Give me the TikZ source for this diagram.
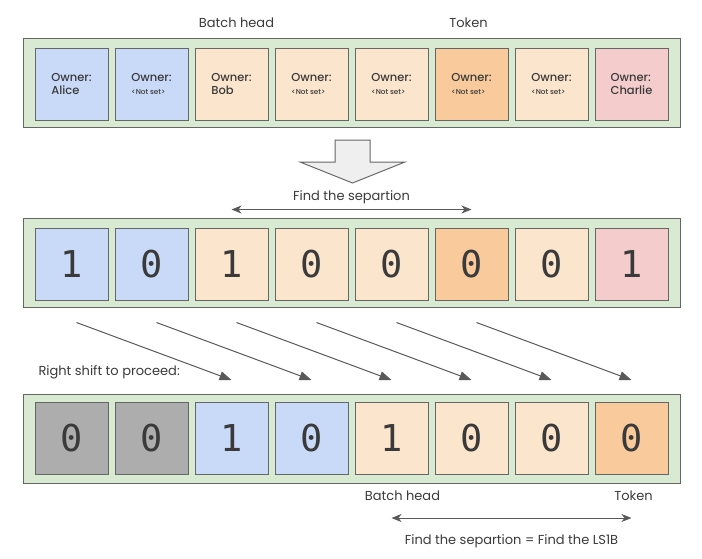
\documentclass[tikz,border=0pt]{standalone}
\usepackage{fontspec}
\setmainfont{Poppins}
\newfontfamily\ownerfont{Poppins Medium}
\newfontfamily\digitfont{DejaVu Sans Mono}
\usepackage{tikz}
\usetikzlibrary{positioning,chains,arrows.meta}

\definecolor{ink}{HTML}{3A3A3A}
\definecolor{cellline}{HTML}{666666}
\definecolor{tapegreen}{HTML}{D9EAD3}
\definecolor{bluecell}{HTML}{C9DAF8}
\definecolor{peachcell}{HTML}{FCE5CD}
\definecolor{orangecell}{HTML}{F9CB9C}
\definecolor{pinkcell}{HTML}{F4CCCC}
\definecolor{graycell}{HTML}{ADADAD}
\definecolor{arrowgray}{HTML}{595959}
\definecolor{blockfill}{HTML}{EFEFEF}

\begin{document}
\begin{tikzpicture}[x=1pt,y=-1pt]
	\tikzset{
		cell/.style={draw=cellline,line width=1pt,minimum width=73pt,minimum height=72pt,inner sep=0pt,text=ink},
		tape/.style={draw=cellline,fill=tapegreen,line width=1pt,minimum width=657pt,minimum height=89pt,inner sep=0pt},
		owner/.style={cell,align=left,font=\ownerfont\fontsize{11.5}{13}\selectfont},
		bit/.style={cell,font=\digitfont\fontsize{37}{37}\selectfont},
		lbl/.style={text=ink,font=\fontsize{13}{15}\selectfont},
		shiftarrow/.style={draw=arrowgray,line width=1pt,-{Triangle[length=12pt,width=9pt]}},
		separrow/.style={draw=arrowgray,line width=1pt,{Stealth[length=10pt,width=8pt,inset=3pt]}-{Stealth[length=10pt,width=8pt,inset=3pt]}}
	}
	\newcommand{\notset}{{\fontsize{7.2}{9}\selectfont <Not set>}}
	\useasboundingbox (0,0) rectangle (702,558);

	%% Owners of the slots
	\node[tape] (tape1) at (352.25,82.5) {};
	\begin{scope}[start chain=1 going right,node distance=6pt]
		\node[owner,fill=bluecell,on chain=1] (h1) at (71.5,84) {Owner:\\Alice};
		\node[owner,fill=bluecell,on chain=1] (h2) {Owner:\\\notset};
		\node[owner,fill=peachcell,on chain=1] (h3) {Owner:\\Bob};
		\node[owner,fill=peachcell,on chain=1] (h4) {Owner:\\\notset};
		\node[owner,fill=peachcell,on chain=1] (h5) {Owner:\\\notset};
		\node[owner,fill=orangecell,on chain=1] (h6) {Owner:\\\notset};
		\node[owner,fill=peachcell,on chain=1] (h7) {Owner:\\\notset};
		\node[owner,fill=pinkcell,on chain=1] (h8) {Owner:\\Charlie};
	\end{scope}
	\node[lbl,above=16pt of h3,xshift=5pt] (head1) {Batch head};
	\node[lbl,above=16pt of h6,xshift=-3pt] (token1) {Token};

	\draw[draw=cellline,fill=blockfill,line width=1pt] (335,140) -- (370,140) -- (370,162) -- (405,162)
		-- (352.5,183) -- (300,162) -- (335,162) -- cycle;

	%% Bit mask
	\node[tape] (tape2) at (352.25,263) {};
	\begin{scope}[start chain=2 going right,node distance=6pt]
		\node[bit,fill=bluecell,on chain=2] (m1) at (71.5,264) {1};
		\node[bit,fill=bluecell,on chain=2] (m2) {0};
		\node[bit,fill=peachcell,on chain=2] (m3) {1};
		\node[bit,fill=peachcell,on chain=2] (m4) {0};
		\node[bit,fill=peachcell,on chain=2] (m5) {0};
		\node[bit,fill=orangecell,on chain=2] (m6) {0};
		\node[bit,fill=peachcell,on chain=2] (m7) {0};
		\node[bit,fill=pinkcell,on chain=2] (m8) {1};
	\end{scope}
	\draw[separrow] ([yshift=18pt]m3.north) -- node[lbl,above=2pt] (sep1) {Find the separtion} ([yshift=18pt]m6.north);

	%% Shifted mask
	\node[tape] (tape3) at (352.25,438.5) {};
	\begin{scope}[start chain=3 going right,node distance=6pt]
		\node[bit,fill=graycell,on chain=3] (s1) at (71.5,438.5) {0};
		\node[bit,fill=graycell,on chain=3] (s2) {0};
		\node[bit,fill=bluecell,on chain=3] (s3) {1};
		\node[bit,fill=bluecell,on chain=3] (s4) {0};
		\node[bit,fill=peachcell,on chain=3] (s5) {1};
		\node[bit,fill=peachcell,on chain=3] (s6) {0};
		\node[bit,fill=peachcell,on chain=3] (s7) {0};
		\node[bit,fill=orangecell,on chain=3] (s8) {0};
	\end{scope}

	\node[lbl,anchor=west] (shift) at (35,372) {Right shift to proceed:};
	\foreach \i in {1,...,6} {
		\pgfmathtruncatemacro{\j}{\i+2}
		\draw[shiftarrow] ([xshift=5pt,yshift=-22pt]m\i.south) -- ([yshift=22pt]s\j.north);
	}

	\node[lbl,below=12pt of s5,xshift=11pt] (head2) {Batch head};
	\node[lbl,below=12pt of s8,xshift=2pt] (token2) {Token};
	\draw[separrow] ([yshift=-43pt]s5.south) -- node[lbl,below=13pt] (sep2) {Find the separtion = Find the LS1B} ([yshift=-43pt]s8.south);
\end{tikzpicture}
\end{document}
